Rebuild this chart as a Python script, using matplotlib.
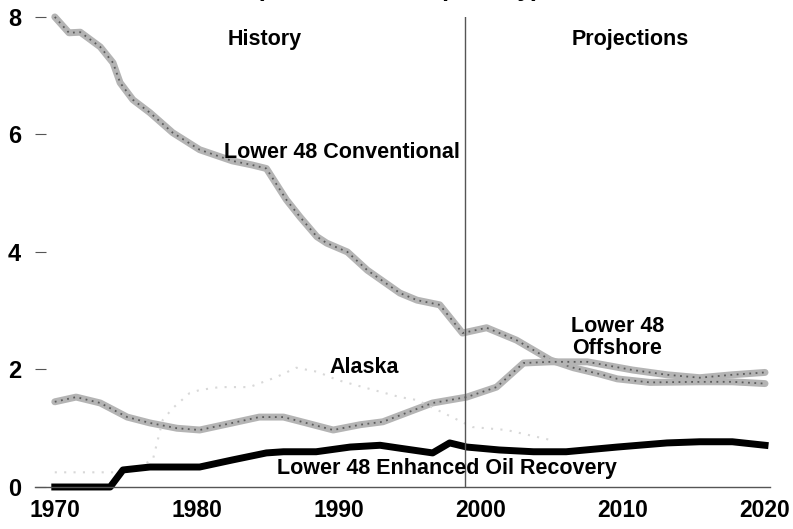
import matplotlib.pyplot as plt
import numpy as np

# данные
conv_years = [1970, 1971, 1971.8, 1973.2, 1974.1, 1974.6, 1975.5, 1976.7, 1978.3, 1980.2,
              1982.5, 1983.9, 1984.9, 1986.3, 1987.25, 1988.45, 1989.15, 1990.6, 1992.0,
              1994.3, 1995.5, 1997.1, 1998.7, 2000.4, 2002.5, 2004.9, 2006.5, 2008.4,
              2009.6, 2011.9, 2015.4, 2017.7, 2020]
conv_vals = [8.0, 7.73, 7.74, 7.49, 7.22, 6.88, 6.59, 6.37, 6.03, 5.74,
             5.55, 5.48, 5.42, 4.89, 4.6, 4.26, 4.15, 4.0, 3.69,
             3.3, 3.18, 3.1, 2.62, 2.71, 2.5, 2.16, 2.03, 1.92,
             1.84, 1.78, 1.79, 1.79, 1.76]

off_years = [1970, 1971.5, 1973.2, 1975.1, 1976.7, 1978.6, 1980.2, 1982.5, 1984.4, 1986.1,
             1987.7, 1989.6, 1991.5, 1993.1, 1994.3, 1996.6, 1999, 2001.1, 2003, 2004.9,
             2007.5, 2010.7, 2013.1, 2015.4, 2017.7, 2020]
off_vals = [1.45, 1.53, 1.43, 1.19, 1.09, 1.0, 0.97, 1.09, 1.19, 1.19,
            1.09, 0.97, 1.06, 1.11, 1.22, 1.43, 1.53, 1.7, 2.11, 2.13,
            2.13, 1.99, 1.91, 1.86, 1.91, 1.95]

ak_years = [1970, 1975, 1976.9, 1977.6, 1978.3, 1979.5, 1980.2, 1981.6, 1983.7, 1985.6,
            1987.0, 1988.5, 1989.9, 1992.0, 1994.3, 1995.5, 1999.4, 2001.8, 2004.9]
ak_vals = [0.25, 0.25, 0.46, 1.14, 1.34, 1.6, 1.65, 1.7, 1.7, 1.87,
           2.03, 1.96, 1.82, 1.68, 1.53, 1.48, 1.02, 0.97, 0.8]

eor_years = [1970, 1973.9, 1974.8, 1976.7, 1980.2, 1982.5, 1984.9, 1986.1, 1988.4, 1990.8,
             1992.9, 1994.3, 1996.6, 1997.8, 1999, 2001.3, 2003.7, 2006, 2009.6, 2013.1,
             2015.4, 2017.7, 2020]
eor_vals = [0, 0, 0.29, 0.34, 0.34, 0.46, 0.58, 0.6, 0.6, 0.68,
            0.71, 0.66, 0.58, 0.75, 0.68, 0.63, 0.6, 0.6, 0.68, 0.75,
            0.77, 0.77, 0.71]

x_ticks = [1970, 1980, 1990, 2000, 2010, 2020]
y_ticks = [0, 2, 4, 6, 8]

plt.rcParams['font.family'] = ['Liberation Sans', 'DejaVu Sans']
plt.rcParams['font.weight'] = 'bold'

fig = plt.figure(figsize=(7.93, 5.29), dpi=100)
ax = fig.add_axes([0.044, 0.0794, 0.927, 0.8886])

# серые "шершавые" линии: основа + тёмный пунктир сверху
for xs, ys in [(conv_years, conv_vals), (off_years, off_vals)]:
    ax.plot(xs, ys, color='#b4b4b4', linewidth=5, solid_capstyle='round', clip_on=False)
    ax.plot(xs, ys, color='#5a5a5a', linewidth=1.3, linestyle=(0, (1, 2.5)), clip_on=False)

ax.plot(ak_years, ak_vals, color='#d8d8d8', linewidth=1.5, linestyle=(0, (1, 3.5)))
ax.plot(eor_years, eor_vals, color='black', linewidth=5, clip_on=False)

ax.axvline(1998.9, color='#555555', linewidth=1)

ax.set_xlim(1968.6, 2020.35)
ax.set_ylim(0, 8)
ax.set_xticks(x_ticks)
ax.set_yticks(y_ticks)
ax.tick_params(axis='x', length=0, labelsize=16.5, pad=9)
ax.tick_params(axis='y', length=8, direction='in', color='#555555', labelsize=17, pad=10)
for s in ['top', 'right', 'left']:
    ax.spines[s].set_visible(False)
ax.spines['bottom'].set_color('#555555')
ax.spines['bottom'].set_linewidth(1)

# подписи
fs = 15.5
ax.text(1984.8, 7.61, 'History', ha='center', va='center', fontsize=fs, fontweight='bold')
ax.text(2010.5, 7.61, 'Projections', ha='center', va='center', fontsize=fs, fontweight='bold')
ax.text(1990.25, 5.70, 'Lower 48 Conventional', ha='center', va='center', fontsize=fs, fontweight='bold')
ax.text(1991.8, 2.03, 'Alaska', ha='center', va='center', fontsize=fs, fontweight='bold')
ax.text(2009.6, 2.54, 'Lower 48\nOffshore', ha='center', va='center', fontsize=fs,
        fontweight='bold', linespacing=1.05)
ax.text(1997.6, 0.31, 'Lower 48 Enhanced Oil Recovery', ha='center', va='center',
        fontsize=fs, fontweight='bold')

# обрезанный сверху заголовок
fig.text(0.502, 1.008, '(million barrels per day)', ha='center', va='baseline',
         fontsize=18, fontweight='bold')

plt.savefig('out.png')
